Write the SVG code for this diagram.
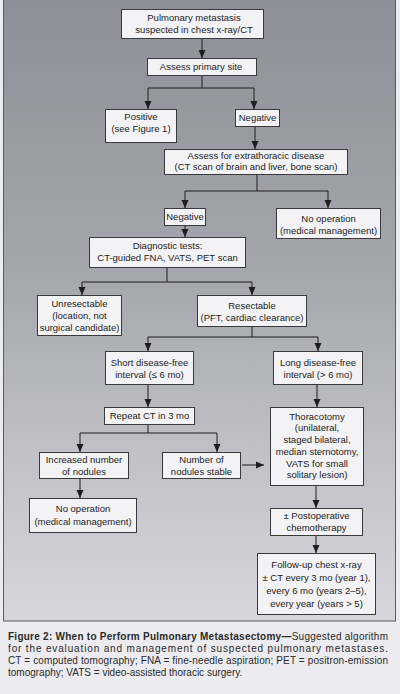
<svg xmlns="http://www.w3.org/2000/svg" width="400" height="694" viewBox="0 0 400 694">
<defs>
<linearGradient id="bg" x1="0" y1="0" x2="0" y2="1">
<stop offset="0" stop-color="#8e8e98"/>
<stop offset="0.45" stop-color="#a6a6ae"/>
<stop offset="0.75" stop-color="#c2c2c8"/>
<stop offset="1" stop-color="#d6d6dc"/>
</linearGradient>
<marker id="ah" markerUnits="userSpaceOnUse" markerWidth="8" markerHeight="8" viewBox="0 0 8 8" refX="8" refY="4" orient="auto">
<path d="M0,0.5 L8,4 L0,7.5 Z" fill="#1e1e1e"/>
</marker>
<style>
.box{fill:#f3f3f5;stroke:#3a3a3a;stroke-width:1}
.t{font-family:"Liberation Sans",Arial,sans-serif;font-size:9.5px;fill:#222;text-anchor:middle}
.c{fill:none;stroke:#1e1e1e;stroke-width:1}
.a{marker-end:url(#ah)}
.cap{font-family:"Liberation Sans",Arial,sans-serif;font-size:10px;fill:#2a2a2a}
</style>
</defs>
<rect x="0" y="0" width="400" height="694" fill="#ececf0"/>
<rect x="3.5" y="-1" width="392" height="622" fill="url(#bg)" stroke="#5a5a60" stroke-width="1"/>

<g id="connectors">
<line class="c a" x1="202" y1="38" x2="202" y2="58"/>
<polyline class="c" points="202,75 202,88"/>
<polyline class="c" points="148,88 254,88"/>
<line class="c a" x1="148" y1="88" x2="148" y2="109"/>
<line class="c a" x1="254" y1="88" x2="254" y2="109"/>
<line class="c a" x1="255" y1="126" x2="255" y2="149"/>
<polyline class="c" points="257,174 257,191"/>
<polyline class="c" points="185,191 328,191"/>
<line class="c a" x1="185" y1="191" x2="185" y2="208"/>
<line class="c a" x1="328" y1="191" x2="328" y2="208"/>
<line class="c a" x1="185" y1="225" x2="185" y2="237"/>
<polyline class="c" points="167,267 167,282"/>
<polyline class="c" points="82,282 252,282"/>
<line class="c a" x1="82" y1="282" x2="82" y2="295"/>
<line class="c a" x1="252" y1="282" x2="252" y2="295"/>
<polyline class="c" points="252,326 252,337"/>
<polyline class="c" points="148,337 318,337"/>
<line class="c a" x1="148" y1="337" x2="148" y2="351"/>
<line class="c a" x1="318" y1="337" x2="318" y2="351"/>
<line class="c a" x1="148" y1="384" x2="148" y2="407"/>
<line class="c a" x1="317" y1="384" x2="317" y2="407"/>
<polyline class="c" points="148,424 148,433"/>
<polyline class="c" points="80,433 217,433"/>
<line class="c a" x1="80" y1="433" x2="80" y2="452"/>
<line class="c a" x1="217" y1="433" x2="217" y2="452"/>
<line class="c a" x1="242" y1="465" x2="264" y2="465"/>
<line class="c a" x1="80" y1="478" x2="80" y2="498"/>
<line class="c a" x1="316" y1="485" x2="316" y2="508"/>
<line class="c a" x1="316" y1="535" x2="316" y2="553"/>
</g>

<g id="n1"><rect class="box" x="121.5" y="9.5" width="142" height="29"/>
<text class="t" x="194" y="21">Pulmonary metastasis</text>
<text class="t" x="194" y="33">suspected in chest x-ray/CT</text></g>

<g id="n2"><rect class="box" x="147.5" y="58.5" width="109" height="17"/>
<text class="t" x="201" y="70">Assess primary site</text></g>

<g id="n3"><rect class="box" x="105.5" y="109.5" width="71" height="33"/>
<text class="t" x="141" y="120">Positive</text>
<text class="t" x="141" y="132">(see Figure 1)</text></g>

<g id="n4"><rect class="box" x="235.5" y="109.5" width="44" height="17"/>
<text class="t" x="257.5" y="121">Negative</text></g>

<g id="n5"><rect class="box" x="164.5" y="149.5" width="183" height="25"/>
<text class="t" x="256" y="159">Assess for extrathoracic disease</text>
<text class="t" x="256" y="170">(CT scan of brain and liver, bone scan)</text></g>

<g id="n6"><rect class="box" x="164.5" y="208.5" width="41" height="17"/>
<text class="t" x="185" y="220">Negative</text></g>

<g id="n7"><rect class="box" x="276.5" y="208.5" width="104" height="30"/>
<text class="t" x="328.5" y="222">No operation</text>
<text class="t" x="328.5" y="234">(medical management)</text></g>

<g id="n8"><rect class="box" x="89.5" y="237.5" width="156" height="30"/>
<text class="t" x="167.5" y="249">Diagnostic tests:</text>
<text class="t" x="167.5" y="261">CT-guided FNA, VATS, PET scan</text></g>

<g id="n9"><rect class="box" x="37.5" y="295.5" width="84" height="40"/>
<text class="t" x="79.5" y="306.5">Unresectable</text>
<text class="t" x="79.5" y="318.5">(location, not</text>
<text class="t" x="79.5" y="330.5">surgical candidate)</text></g>

<g id="n10"><rect class="box" x="197.5" y="295.5" width="109" height="31"/>
<text class="t" x="252" y="308.5">Resectable</text>
<text class="t" x="252" y="320.5">(PFT, cardiac clearance)</text></g>

<g id="n11"><rect class="box" x="105.5" y="351.5" width="88" height="33"/>
<text class="t" x="149.5" y="365.5">Short disease-free</text>
<text class="t" x="149.5" y="378">interval (≤ 6 mo)</text></g>

<g id="n12"><rect class="box" x="273.5" y="351.5" width="89" height="33"/>
<text class="t" x="318" y="365.5">Long disease-free</text>
<text class="t" x="318" y="378">interval (&gt; 6 mo)</text></g>

<g id="n13"><rect class="box" x="104.5" y="407.5" width="90" height="17"/>
<text class="t" x="149.5" y="419">Repeat CT in 3 mo</text></g>

<g id="n14"><rect class="box" x="270.5" y="407.5" width="93" height="78"/>
<text class="t" x="317" y="419.5">Thoracotomy</text>
<text class="t" x="317" y="431.3">(unilateral,</text>
<text class="t" x="317" y="443">staged bilateral,</text>
<text class="t" x="317" y="454.8">median sternotomy,</text>
<text class="t" x="317" y="466.5">VATS for small</text>
<text class="t" x="317" y="478.3">solitary lesion)</text></g>

<g id="n15"><rect class="box" x="39.5" y="452.5" width="89" height="26"/>
<text class="t" x="84" y="462.5">Increased number</text>
<text class="t" x="84" y="474.5">of nodules</text></g>

<g id="n16"><rect class="box" x="162.5" y="452.5" width="78" height="26"/>
<text class="t" x="201.5" y="462.5">Number of</text>
<text class="t" x="201.5" y="474.5">nodules stable</text></g>

<g id="n17"><rect class="box" x="29.5" y="498.5" width="107" height="34"/>
<text class="t" x="83" y="511.5">No operation</text>
<text class="t" x="83" y="524.5">(medical management)</text></g>

<g id="n18"><rect class="box" x="270.5" y="508.5" width="92" height="27"/>
<text class="t" x="316.5" y="518.5">± Postoperative</text>
<text class="t" x="316.5" y="530.5">chemotherapy</text></g>

<g id="n19"><rect class="box" x="257.5" y="553.5" width="118" height="61"/>
<text class="t" x="316.5" y="567.5">Follow-up chest x-ray</text>
<text class="t" x="316.5" y="580.5">± CT every 3 mo (year 1),</text>
<text class="t" x="316.5" y="593.5">every 6 mo (years 2–5),</text>
<text class="t" x="316.5" y="606.5">every year (years &gt; 5)</text></g>

<g id="caption">
<text class="cap" x="8" y="640" textLength="380" lengthAdjust="spacing"><tspan font-weight="bold">Figure 2: When to Perform Pulmonary Metastasectomy—</tspan>Suggested algorithm</text>
<text class="cap" x="8" y="652" textLength="380" lengthAdjust="spacing">for the evaluation and management of suspected pulmonary metastases.</text>
<text class="cap" x="8" y="664" textLength="380" lengthAdjust="spacing">CT = computed tomography; FNA = fine-needle aspiration; PET = positron-emission</text>
<text class="cap" x="8" y="676">tomography; VATS = video-assisted thoracic surgery.</text>
</g>
</svg>
